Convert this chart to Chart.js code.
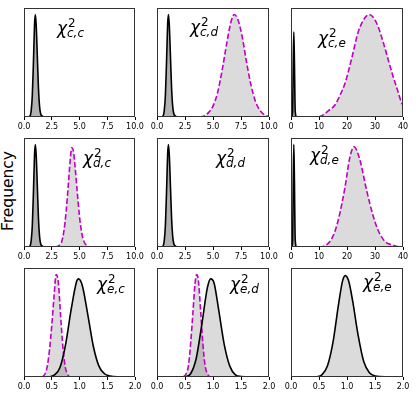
<!DOCTYPE html>
<html lang="en">
<head>
<meta charset="UTF-8">
<title>Reduced chi-square grid</title>
<script src="https://cdn.jsdelivr.net/npm/chart.js"></script>
<style>
  body { margin: 0; background: #fff; }
  #wrap { position: relative; width: 416px; height: 398px; overflow: hidden; font-family: "DejaVu Sans", sans-serif; }
  canvas { position: absolute; }
  .lab span { position: absolute; white-space: nowrap; line-height: 1; font-family: "DejaVu Sans"; color: #000; }
  .chi { font-style: italic; font-size: 17px; }
  .sc { font-size: 12px; }
  .sub { font-style: italic; }
  #ylab { position: absolute; width: 100px; height: 20px; line-height: 20px; text-align: center;
          font-size: 15.5px; transform: rotate(-90deg); color: #000; }
</style>
</head>
<body>
<div id="wrap">
  <div id="ylab">Frequency</div>
</div>

<script>
  // tick labels
  const ticksTen = [0, 2.5, 5, 7.5, 10];
  const ticksForty = [0, 10, 20, 30, 40];
  const ticksTwo = [0, 0.5, 1, 1.5, 2];

  const panelNames = ['c,c', 'c,d', 'c,e', 'd,c', 'd,d', 'd,e', 'e,c', 'e,d', 'e,e'];

  // narrow black peak (rows 1-2, columns 1-2)
  const narrowX = [0.4, 0.55, 0.65, 0.75, 0.85, 0.95, 1.02, 1.1, 1.2, 1.3, 1.4, 1.5, 1.65, 1.8];
  const narrowY = [0, 0.01, 0.06, 0.2, 0.5, 0.85, 0.94, 0.84, 0.56, 0.27, 0.1, 0.03, 0.008, 0];

  // spikes in column 3
  const spikeX = [0.3, 0.6, 0.8, 1.0, 1.2, 1.5, 1.9];
  const spikeCeY = [0, 0.05, 0.5, 0.78, 0.55, 0.06, 0];
  const spikeDeY = [0, 0.06, 0.6, 0.94, 0.66, 0.07, 0];

  // magenta curves
  const cdX = [3.8, 4.2, 4.6, 5.0, 5.4, 5.8, 6.2, 6.6, 6.9, 7.2, 7.6, 8.0, 8.4, 8.8, 9.2, 9.6, 10];
  const cdY = [0, 0.01, 0.04, 0.1, 0.22, 0.42, 0.66, 0.87, 0.94, 0.9, 0.74, 0.5, 0.29, 0.14, 0.06, 0.02, 0.005];

  const ceX = [10, 11.5, 13.5, 15.7, 17.5, 19.3, 21.7, 24, 26.4, 28, 30.6, 33, 35, 36.5, 38, 39.5, 40];
  const ceY = [0, 0.02, 0.06, 0.11, 0.2, 0.31, 0.54, 0.78, 0.91, 0.94, 0.86, 0.68, 0.5, 0.37, 0.25, 0.13, 0.11];

  const dcX = [2.8, 3.1, 3.4, 3.6, 3.8, 4.0, 4.15, 4.3, 4.45, 4.6, 4.8, 5.0, 5.2, 5.4, 5.7, 6.0];
  const dcY = [0, 0.01, 0.05, 0.15, 0.33, 0.58, 0.78, 0.91, 0.88, 0.74, 0.5, 0.28, 0.13, 0.05, 0.01, 0];

  const deX = [10, 12, 13.9, 15.5, 16.9, 18.2, 19.3, 21, 22.5, 24.6, 27, 29.4, 31, 32.4, 34, 36, 38, 40];
  const deY = [0, 0.01, 0.05, 0.13, 0.25, 0.4, 0.55, 0.82, 0.92, 0.8, 0.52, 0.28, 0.16, 0.09, 0.04, 0.02, 0.005, 0];

  const ecMagX = [0.33, 0.38, 0.42, 0.46, 0.5, 0.54, 0.58, 0.62, 0.66, 0.7, 0.74, 0.78, 0.82];
  const ecMagY = [0, 0.03, 0.1, 0.25, 0.47, 0.73, 0.94, 0.86, 0.56, 0.28, 0.1, 0.03, 0];
  const ecBlkX = [0.45, 0.55, 0.65, 0.75, 0.85, 0.95, 0.98, 1.05, 1.15, 1.25, 1.35, 1.45, 1.55, 1.75];
  const ecBlkY = [0, 0.02, 0.09, 0.3, 0.62, 0.88, 0.9, 0.84, 0.57, 0.28, 0.1, 0.03, 0.01, 0];

  const edMagX = [0.47, 0.52, 0.56, 0.6, 0.64, 0.68, 0.71, 0.74, 0.78, 0.82, 0.86, 0.9, 0.94];
  const edMagY = [0, 0.03, 0.1, 0.3, 0.58, 0.86, 0.94, 0.88, 0.6, 0.3, 0.1, 0.03, 0];
  const edBlkX = [0.5, 0.6, 0.7, 0.8, 0.9, 0.96, 1.02, 1.1, 1.2, 1.3, 1.4, 1.5, 1.75];
  const edBlkY = [0, 0.03, 0.17, 0.48, 0.82, 0.9, 0.86, 0.62, 0.3, 0.1, 0.02, 0.005, 0];

  const eeX = [0.45, 0.55, 0.65, 0.75, 0.85, 0.92, 0.97, 1.03, 1.1, 1.2, 1.3, 1.4, 1.5, 1.75];
  const eeY = [0, 0.02, 0.1, 0.32, 0.67, 0.88, 0.93, 0.88, 0.7, 0.38, 0.14, 0.04, 0.01, 0];

  // panel boxes [left, top, right, bottom]
  const cols = [[24, 135], [157, 269], [291, 403]];
  const rows = [[8, 117], [138, 247], [268, 377]];

  const wrap = document.getElementById('wrap');
  const ylab = document.getElementById('ylab');
  ylab.style.left = (7.5 - 50) + 'px';
  ylab.style.top = (191 - 10) + 'px';

  function pts(xs, ys) {
    return xs.map((v, i) => ({ x: v, y: ys[i] }));
  }

  function black(xs, ys, narrow) {
    return { data: pts(xs, ys), borderColor: '#000', borderWidth: 1.6, pointRadius: 0,
             cubicInterpolationMode: 'monotone', fill: 'origin',
             backgroundColor: narrow ? 'rgba(0,0,0,0.3)' : 'rgba(0,0,0,0.14)' };
  }
  function magenta(xs, ys) {
    return { data: pts(xs, ys), borderColor: '#c000c0', borderWidth: 1.6, borderDash: [5.5, 2.4],
             pointRadius: 0, cubicInterpolationMode: 'monotone', fill: 'origin',
             backgroundColor: 'rgba(0,0,0,0.14)' };
  }

  const boxPlugin = {
    id: 'box',
    afterDatasetsDraw(chart) {
      const a = chart.chartArea, ctx = chart.ctx;
      ctx.save();
      ctx.strokeStyle = '#333';
      ctx.lineWidth = 1;
      ctx.strokeRect(Math.round(a.left) + 0.5, Math.round(a.top) + 0.5,
                     Math.round(a.right - a.left) - 1, Math.round(a.bottom - a.top) - 1);
      ctx.restore();
    }
  };

  function makePanel(r, c, xmax, ticks, fmt, datasets) {
    const [L, R] = cols[c], [T, B] = rows[r];
    const cv = document.createElement('canvas');
    const w = (R - L) + 28, h = (B - T) + 2 + 30;
    cv.width = w; cv.height = h;
    cv.style.left = (L - 14) + 'px';
    cv.style.top = (T - 2) + 'px';
    wrap.appendChild(cv);

    const chart = new Chart(cv, {
      type: 'line',
      data: { datasets },
      options: {
        responsive: false,
        animation: false,
        layout: { padding: { left: 14, right: 14, top: 2, bottom: 0 } },
        plugins: { legend: { display: false }, tooltip: { enabled: false }, filler: { drawTime: 'beforeDatasetsDraw' } },
        scales: {
          x: {
            type: 'linear', min: 0, max: xmax,
            afterBuildTicks: s => { s.ticks = ticks.map(v => ({ value: v })); },
            ticks: { font: { family: 'DejaVu Sans', size: 8 }, color: '#000', padding: 2,
                     maxRotation: 0, autoSkip: false, callback: v => fmt(v) },
            grid: { display: true, drawOnChartArea: false, drawTicks: true, tickLength: 3, color: '#000', lineWidth: 1 },
            border: { display: false }
          },
          y: { display: false, min: 0, max: 1 }
        }
      },
      plugins: [boxPlugin]
    });

    // make the plot area exactly the panel height
    const a = chart.chartArea;
    const extra = (a.bottom - a.top) - (B - T);
    chart.options.layout.padding.bottom = Math.max(0, extra);
    chart.update();
    const a2 = chart.chartArea;
    cv.style.left = (L - a2.left) + 'px';
    cv.style.top = (T - a2.top) + 'px';
  }

  function addLabel(name, left, base) {
    const d = document.createElement('div');
    d.className = 'lab';
    const chi = document.createElement('span');
    chi.className = 'chi';
    chi.textContent = 'χ';
    chi.style.left = left + 'px';
    chi.style.top = (base - 0.846 * 17) + 'px';
    const sup = document.createElement('span');
    sup.className = 'sc';
    sup.textContent = '2';
    sup.style.left = (left + 11) + 'px';
    sup.style.top = (base - 7 - 0.846 * 12) + 'px';
    const sub = document.createElement('span');
    sub.className = 'sc sub';
    sub.textContent = name;
    sub.style.left = (left + 10) + 'px';
    sub.style.top = (base + 3 - 0.846 * 12) + 'px';
    d.append(chi, sup, sub);
    wrap.appendChild(d);
  }

  const f1 = v => v.toFixed(1);
  const f0 = v => v.toFixed(0);

  makePanel(0, 0, 10, ticksTen, f1, [black(narrowX, narrowY, true)]);
  makePanel(0, 1, 10, ticksTen, f1, [black(narrowX, narrowY, true), magenta(cdX, cdY)]);
  makePanel(0, 2, 40, ticksForty, f0, [black(spikeX, spikeCeY, true), magenta(ceX, ceY)]);
  makePanel(1, 0, 10, ticksTen, f1, [black(narrowX, narrowY, true), magenta(dcX, dcY)]);
  makePanel(1, 1, 10, ticksTen, f1, [black(narrowX, narrowY, true)]);
  makePanel(1, 2, 40, ticksForty, f0, [black(spikeX, spikeDeY, true), magenta(deX, deY)]);
  makePanel(2, 0, 2, ticksTwo, f1, [black(ecBlkX, ecBlkY, false), magenta(ecMagX, ecMagY)]);
  makePanel(2, 1, 2, ticksTwo, f1, [black(edBlkX, edBlkY, false), magenta(edMagX, edMagY)]);
  makePanel(2, 2, 2, ticksTwo, f1, [black(eeX, eeY, false)]);

  // label positions: left of chi, baseline of chi
  const labelPos = [[57, 34], [190, 33], [318, 44], [83, 164], [216, 164], [310, 161], [97, 290], [230, 290], [363, 288]];
  panelNames.forEach((n, i) => addLabel(n, labelPos[i][0], labelPos[i][1]));
</script>
</body>
</html>
